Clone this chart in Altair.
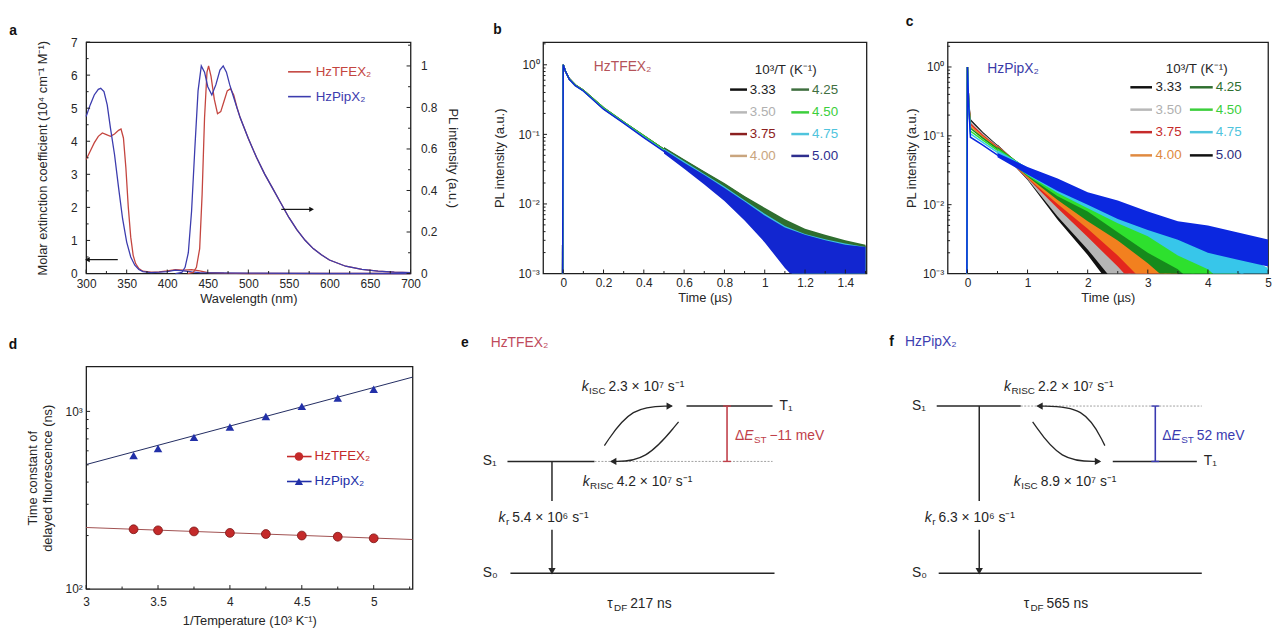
import math
import altair as alt
import pandas as pd

FONT = "Liberation Sans"
INK = "#262626"

# ===================== panel a : absorption / PL =====================
A_SERIES = ["HzTFEX₂", "HzPipX₂"]
A_COLORS = ["#c4453f", "#3c3cae"]
A_XTICKS = [300, 350, 400, 450, 500, 550, 600, 650, 700]
A_XTICKS_MINOR = [325, 375, 425, 475, 525, 575, 625, 675]
A_YTICKS = [0, 1, 2, 3, 4, 5, 6, 7]
A_YTICKS_MINOR = [0.5, 1.5, 2.5, 3.5, 4.5, 5.5, 6.5]
A_Y2TICKS = [0, 0.2, 0.4, 0.6, 0.8, 1.0]
A_Y2TICKS_MINOR = [0.1, 0.3, 0.5, 0.7, 0.9, 1.1]

ABS_WL_TFE = [300, 305, 310, 315, 320, 325, 330, 335, 340, 343, 346, 349, 352, 355, 358, 361, 365, 370, 380, 390,
              400, 410, 420, 430, 440, 450, 470, 500, 600, 700]
ABS_TFE = [3.45, 3.7, 3.95, 4.15, 4.25, 4.2, 4.15, 4.22, 4.33, 4.37, 4.1, 3.2, 2.0, 1.1, 0.55, 0.3, 0.15, 0.07, 0.04,
           0.05, 0.08, 0.12, 0.1, 0.12, 0.08, 0.03, 0.01, 0.0, 0.0, 0.0]
ABS_WL_PIP = [300, 305, 310, 315, 318, 322, 326, 330, 335, 340, 345, 350, 355, 360, 365, 370, 380, 390, 400, 410,
              420, 430, 440, 460, 500, 600, 700]
ABS_PIP = [4.75, 5.1, 5.4, 5.57, 5.6, 5.5, 5.1, 4.4, 3.6, 2.6, 1.65, 0.95, 0.5, 0.25, 0.12, 0.06, 0.03, 0.04, 0.06,
           0.1, 0.08, 0.05, 0.03, 0.02, 0.01, 0.0, 0.0]
PL_WL_TFE = [425, 432, 436, 440, 443, 446, 449, 451, 454, 458, 462, 466, 470, 474, 478, 482, 486,
             490, 500, 510, 520, 530, 540, 550, 560, 570, 580, 590, 600, 620, 640, 660, 680, 700]
PL_TFE = [0.0, 0.005, 0.03, 0.12, 0.38, 0.75, 0.97, 1.0, 0.95, 0.84, 0.77, 0.78, 0.83, 0.88, 0.89, 0.86, 0.8,
          0.75, 0.65, 0.56, 0.48, 0.41, 0.34, 0.27, 0.21, 0.16, 0.12, 0.09, 0.065, 0.035, 0.02, 0.012, 0.007, 0.004]
PL_WL_PIP = [410, 418, 422, 426, 430, 434, 438, 442, 446, 450, 455, 460, 465, 469, 473, 477, 481, 485,
             490, 500, 510, 520, 530, 540, 550, 560, 570, 580, 590, 600, 620, 640, 660, 680, 700]
PL_PIP = [0.0, 0.005, 0.03, 0.1, 0.3, 0.6, 0.88, 1.0, 0.97, 0.9, 0.86, 0.91, 0.98, 1.0, 0.97, 0.91, 0.86, 0.81,
          0.75, 0.65, 0.56, 0.48, 0.41, 0.34, 0.27, 0.21, 0.16, 0.12, 0.09, 0.065, 0.035, 0.02, 0.012, 0.007, 0.004]
A_LEG_X = [549, 577]
A_LEG_TEXT_X = 583
A_LEG_Y = [6.1, 5.35]
A_ARROW_TAIL = [339, 540.6]
A_ARROW_HEAD = [302.5, 577]
A_ARROW_Y = [0.42, 1.94]

# ===================== panels b, c : transient PL =====================
T_LABELS = ["3.33", "3.50", "3.75", "4.00", "4.25", "4.50", "4.75", "5.00"]
LOG_TICKS = [0.001, 0.01, 0.1, 1]
LOG_TICKS_MINOR = [0.002, 0.003, 0.004, 0.005, 0.006, 0.007, 0.008, 0.009,
                   0.02, 0.03, 0.04, 0.05, 0.06, 0.07, 0.08, 0.09,
                   0.2, 0.3, 0.4, 0.5, 0.6, 0.7, 0.8, 0.9, 2]
B_XTICKS = [0, 0.2, 0.4, 0.6, 0.8, 1.0, 1.2, 1.4]
B_XTICKS_MINOR = [0.1, 0.3, 0.5, 0.7, 0.9, 1.1, 1.3, 1.5]
C_XTICKS = [0, 1, 2, 3, 4, 5]
C_XTICKS_MINOR = [0.5, 1.5, 2.5, 3.5, 4.5]

B_COLORS = ["#111111", "#b5b5b5", "#8e1b1b", "#c9a27a", "#2f6e2f", "#34c934", "#3cc0e0", "#1226d0"]
B_LEG_LINE_COLORS = ["#111111", "#b8b8b8", "#8b2020", "#c9a57e", "#3f6f3f", "#3ccf3c", "#4fc4dd", "#2e2e8e"]
B_LEG_TEXT_COLORS = ["#222222", "#b0b0b0", "#8b2020", "#c9a57e", "#3f6f3f", "#3ccf3c", "#4fc4dd", "#2e2e8e"]
C_COLORS = ["#111111", "#b5b5b5", "#e3261e", "#f2801f", "#168a1c", "#2ee02e", "#37c6ea", "#0b27e0"]
C_LEG_LINE_COLORS = ["#111111", "#b8b8b8", "#c62b2b", "#e08a40", "#2f6f2f", "#3ccf3c", "#4fc4dd", "#111111"]
C_LEG_TEXT_COLORS = ["#222222", "#b0b0b0", "#c62b2b", "#e08a40", "#2f6f2f", "#3ccf3c", "#4fc4dd", "#2e2e7e"]

T_B = [-0.003, 0, 0.01, 0.03, 0.06, 0.1, 0.2, 0.3, 0.4, 0.5, 0.6, 0.7, 0.8, 0.9, 1.0, 1.1, 1.2, 1.3, 1.4, 1.5]
B_VALUES = {
    "3.33": [0.0008, 1.0, 0.82, 0.63, 0.51, 0.43, 0.24, 0.15, 0.095, 0.061, 0.039, 0.025, 0.016, 0.0098, 0.006, 0.0037, 0.0023, 0.0015, 0.001, 0.0007],
    "3.50": [0.0008, 1.0, 0.82, 0.63, 0.51, 0.43, 0.235, 0.148, 0.094, 0.06, 0.038, 0.0245, 0.0155, 0.0095, 0.0058, 0.0035, 0.0022, 0.0014, 0.0009, 0.0006],
    "3.75": [0.0008, 1.0, 0.82, 0.63, 0.51, 0.43, 0.235, 0.148, 0.094, 0.06, 0.038, 0.024, 0.0152, 0.0093, 0.0056, 0.0034, 0.0021, 0.0013, 0.0009, 0.0006],
    "4.00": [0.0008, 1.0, 0.82, 0.62, 0.5, 0.43, 0.235, 0.148, 0.093, 0.06, 0.038, 0.024, 0.015, 0.0092, 0.0055, 0.0033, 0.002, 0.0013, 0.0009, 0.0006],
    "4.25": [0.0008, 1.0, 0.82, 0.63, 0.51, 0.43, 0.24, 0.15, 0.095, 0.061, 0.039, 0.025, 0.0158, 0.0097, 0.0059, 0.0036, 0.0022, 0.0014, 0.0009, 0.0006],
    "4.50": [0.0008, 1.0, 0.82, 0.63, 0.51, 0.43, 0.24, 0.15, 0.095, 0.06, 0.0385, 0.0245, 0.0155, 0.0095, 0.0057, 0.0035, 0.0021, 0.0013, 0.0009, 0.0006],
    "4.75": [0.0008, 1.0, 0.82, 0.62, 0.5, 0.42, 0.232, 0.146, 0.091, 0.058, 0.037, 0.0235, 0.0146, 0.0088, 0.0051, 0.003, 0.0018, 0.0011, 0.0008, 0.0006],
    "5.00": [0.0008, 1.0, 0.82, 0.62, 0.5, 0.42, 0.23, 0.145, 0.09, 0.057, 0.036, 0.023, 0.0142, 0.0085, 0.0048, 0.0028, 0.0017, 0.0011, 0.0008, 0.0006],
}
T_B_BAND = [0.5, 0.6, 0.7, 0.8, 0.9, 1.0, 1.1, 1.2, 1.3, 1.4, 1.5]
B_BAND_HI = {
    "3.33": [0.065, 0.043, 0.029, 0.0195, 0.0128, 0.0085, 0.0058, 0.0042, 0.0034, 0.0028, 0.0025],
    "4.25": [0.066, 0.044, 0.0295, 0.02, 0.013, 0.0088, 0.006, 0.0044, 0.0036, 0.003, 0.0026],
    "4.75": [0.062, 0.041, 0.027, 0.0178, 0.0113, 0.0072, 0.0048, 0.0037, 0.0031, 0.0027, 0.0024],
    "5.00": [0.06, 0.039, 0.026, 0.017, 0.0108, 0.0068, 0.0046, 0.0036, 0.003, 0.0026, 0.0024],
}
B_BAND_LO = {
    "3.33": [0.057, 0.035, 0.021, 0.0125, 0.0072, 0.0038, 0.002, 0.001, 0.0006, 0.0005, 0.0005],
    "4.25": [0.057, 0.035, 0.021, 0.0123, 0.007, 0.0037, 0.0019, 0.0009, 0.0006, 0.0005, 0.0005],
    "4.75": [0.054, 0.033, 0.02, 0.0115, 0.0062, 0.003, 0.0013, 0.0006, 0.0005, 0.0005, 0.0005],
    "5.00": [0.053, 0.032, 0.019, 0.011, 0.0058, 0.0028, 0.0012, 0.0006, 0.0005, 0.0005, 0.0005],
}
B_LEG_LINE_X = [[0.828, 0.912], [1.132, 1.22]]
B_LEG_TEXT_X = [0.926, 1.235]
B_LEG_Y = [0.44, 0.207, 0.101, 0.049]
B_HEAD = ["10³/T (K⁻¹)", 0.951, 0.85]
B_NAME = ["HzTFEX₂", 0.152, 0.94]

T_C = [-0.01, 0, 0.02, 0.05, 0.25, 0.5, 1.0, 1.5, 2.0, 2.5, 3.0, 3.5, 4.0, 4.5, 5.0]
C_VALUES = {
    "3.33": [0.0005, 1.0, 0.3, 0.170, 0.112, 0.0708, 0.0263, 0.00851, 0.00309, 0.0011, 0.0004, None, None, None, None],
    "3.50": [0.0005, 1.0, 0.3, 0.158, 0.107, 0.0692, 0.0269, 0.00955, 0.00372, 0.00145, 0.00056, None, None, None, None],
    "3.75": [0.0005, 1.0, 0.3, 0.148, 0.102, 0.0676, 0.0275, 0.0112, 0.00479, 0.00209, 0.00095, 0.00044, None, None, None],
    "4.00": [0.0005, 1.0, 0.3, 0.138, 0.0977, 0.0661, 0.0282, 0.0129, 0.0063, 0.00302, 0.00148, 0.00076, None, None, None],
    "4.25": [0.0005, 1.0, 0.3, 0.129, 0.0933, 0.0646, 0.0295, 0.0148, 0.00813, 0.00427, 0.00234, 0.00132, 0.00076, None, None],
    "4.50": [0.0005, 1.0, 0.3, 0.117, 0.0871, 0.0617, 0.0302, 0.0166, 0.01, 0.00562, 0.00331, 0.00191, 0.00105, 0.00063, None],
    "4.75": [0.0005, 1.0, 0.3, 0.107, 0.0813, 0.0575, 0.0309, 0.0186, 0.0112, 0.00759, 0.0049, 0.00302, 0.00191, 0.00107, 0.00063],
    "5.00": [0.0005, 1.0, 0.3, 0.0955, 0.0741, 0.0525, 0.0316, 0.02, 0.0126, 0.0087, 0.00603, 0.00437, 0.00331, 0.00263, 0.00209],
}
T_C_BAND = [0.5, 1.0, 1.5, 2.0, 2.5, 3.0, 3.5, 4.0, 4.5, 5.0]
C_BAND_HI = {
    "3.33": [0.0748, 0.0294, 0.0112, 0.00463, 0.00209, 0.00076, None, None, None, None],
    "3.50": [0.0734, 0.0301, 0.0126, 0.00557, 0.00275, 0.00107, None, None, None, None],
    "3.75": [0.0724, 0.0309, 0.0135, 0.0063, 0.00313, 0.00182, 0.00083, None, None, None],
    "4.00": [0.0708, 0.0316, 0.0155, 0.00832, 0.00453, 0.00282, 0.00145, None, None, None],
    "4.25": [0.0692, 0.033, 0.0178, 0.0107, 0.00562, 0.00352, 0.00251, 0.00145, None, None],
    "4.50": [0.0661, 0.0338, 0.02, 0.012, 0.00741, 0.00497, 0.00286, 0.002, 0.0012, None],
    "4.75": [0.0617, 0.0346, 0.0224, 0.0135, 0.01, 0.00646, 0.00453, 0.00286, 0.00204, 0.0012],
    "5.00": [0.0562, 0.0353, 0.024, 0.0151, 0.0115, 0.00794, 0.00575, 0.00497, 0.00394, 0.00313],
}
C_BAND_LO = {
    "3.33": [0.0661, 0.0229, 0.00603, 0.00186, 0.00049, 0.0002, None, None, None, None],
    "3.50": [0.0646, 0.0234, 0.00676, 0.00224, 0.00065, 0.0002, None, None, None, None],
    "3.75": [0.0631, 0.024, 0.0089, 0.00339, 0.00126, 0.00043, 0.0002, None, None, None],
    "4.00": [0.0617, 0.0245, 0.0102, 0.00447, 0.00182, 0.00066, 0.0003, None, None, None],
    "4.25": [0.0603, 0.0257, 0.0117, 0.00575, 0.00302, 0.00141, 0.00059, 0.0003, None, None],
    "4.50": [0.0575, 0.0263, 0.0132, 0.00794, 0.00398, 0.002, 0.00115, 0.00047, 0.0003, None],
    "4.75": [0.0537, 0.0269, 0.0148, 0.0089, 0.00537, 0.00347, 0.00182, 0.00115, 0.00048, 0.0003],
    "5.00": [0.049, 0.0275, 0.0158, 0.01, 0.00617, 0.00427, 0.00309, 0.002, 0.00158, 0.00126],
}
C_LEG_LINE_X = [[2.71, 3.07], [3.70, 4.08]]
C_LEG_TEXT_X = [3.13, 4.13]
C_LEG_Y = [0.507, 0.24, 0.113, 0.052]
C_HEAD = ["10³/T (K⁻¹)", 3.3, 0.933]
C_NAME = ["HzPipX₂", 0.33, 0.93]

# ===================== panel d =====================
D_X = [3.33, 3.5, 3.75, 4.0, 4.25, 4.5, 4.75, 5.0]
D_TFE = [217, 214, 211, 207, 204, 200, 197, 193]
D_PIP = [565, 618, 714, 816, 937, 1067, 1188, 1334]
D_FIT_X = [3.0, 5.27]
D_FIT_TFE = [222, 190]
D_FIT_PIP = [502, 1559]
D_XTICKS = [3, 3.5, 4, 4.5, 5]
D_XTICKS_MINOR = [3.25, 3.75, 4.25, 4.75, 5.25]
D_YTICKS = [100, 1000]
D_YTICKS_MINOR = [200, 300, 400, 500, 600, 700, 800, 900]
D_LEG_X = [4.397, 4.568]
D_LEG_MARK_X = 4.48
D_LEG_TEXT_X = 4.589
D_LEG_Y = [557, 403]
D_RED = "#c42a2a"
D_BLUE = "#2230a8"

# ===================== panels e, f : energy diagrams =====================
E_SIZE = [390, 250]
E_LETTER = ["e", 3, -24]
E_NAME = ["HzTFEX₂", 33, -24, "#c04a5c"]
E_LEVEL_NAME = ["S₁", "T₁", "S₀"]
E_LEVEL_X1 = [50, 231, 53]
E_LEVEL_X2 = [138, 318, 320]
E_LEVEL_Y = [96, 40, 209]
E_LEVEL_LABEL_X = [33, 333, 33]
E_DOTTED = [138, 318, 96]
E_GAP = [272, 40, 96, "#c0404a"]
E_TEXTS = [
    ([("k", "i"), ("ISC", "s"), (" 2.3 × 10⁷ s⁻¹", "n")], 125, 21),
    ([("k", "i"), ("RISC", "s"), (" 4.2 × 10⁷ s⁻¹", "n")], 126, 117),
    ([("k", "i"), ("r", "s"), (" 5.4 × 10⁶ s⁻¹", "n")], 41, 153),
    ([("τ", "n"), ("DF", "s"), (" 217 ns", "n")], 151, 240),
]
E_GAP_TEXT = ([("Δ", "n"), ("E", "i"), ("ST", "s"), (" −11 meV", "n")], 280, 70)
E_CURVES = [[(148, 80), (175, 40), (216, 40)], [(223, 56), (190, 96), (155, 96)]]
E_KR = [95, 96, 136, 165, 209]

F_SIZE = [385, 250]
F_LETTER = ["f", 7, -25]
F_NAME = ["HzPipX₂", 23, -25, "#3d3db0"]
F_LEVEL_NAME = ["S₁", "T₁", "S₀"]
F_LEVEL_X1 = [55, 233, 57]
F_LEVEL_X2 = [140, 318, 323]
F_LEVEL_Y = [40, 96, 209]
F_LEVEL_LABEL_X = [38, 333, 38]
F_DOTTED = [140, 323, 40]
F_GAP = [276, 40, 96, "#3a3ab0"]
F_TEXTS = [
    ([("k", "i"), ("RISC", "s"), (" 2.2 × 10⁷ s⁻¹", "n")], 123, 21),
    ([("k", "i"), ("ISC", "s"), (" 8.9 × 10⁷ s⁻¹", "n")], 133, 117),
    ([("k", "i"), ("r", "s"), (" 6.3 × 10⁶ s⁻¹", "n")], 43, 153),
    ([("τ", "n"), ("DF", "s"), (" 565 ns", "n")], 143, 240),
]
F_GAP_TEXT = ([("Δ", "n"), ("E", "i"), ("ST", "s"), (" 52 meV", "n")], 283, 70)
F_CURVES = [[(225, 80), (205, 40), (157, 40)], [(152, 56), (180, 96), (220, 96)]]
F_KR = [98, 40, 136, 165, 209]

# ---------------------------------------------------------------------
LOG_EXPR = ("datum.value >= 0.5 ? '10⁰' : datum.value >= 0.05 ? '10⁻¹' : "
            "datum.value >= 0.005 ? '10⁻²' : '10⁻³'")
LEG_FS = 13.5
NAME_FS = 14
DIA_FS = 14
SUB_FS = 10
TICK_MAJOR = 4
TICK_MINOR = 2.5


def letter_title(t, dx, offset):
    return alt.TitleParams(text=t, anchor="start", frame="bounds", dx=dx, offset=offset,
                           fontSize=14, fontWeight="bold", color="#111111")


def x_ticks(values, x_enc, field, height, length):
    """inward tick marks along the bottom edge, placed by the panel's own x encoding"""
    df = pd.DataFrame({field: values})
    return alt.Chart(df).mark_rule(color="#1e1e1e", strokeWidth=1).encode(
        x=x_enc, y=alt.value(height), y2=alt.value(height - length))


def y_ticks(values, y_enc, field, x0, length):
    """inward tick marks along a vertical edge, placed by the panel's own y encoding"""
    df = pd.DataFrame({field: values})
    return alt.Chart(df).mark_rule(color="#1e1e1e", strokeWidth=1).encode(
        y=y_enc, x=alt.value(x0), x2=alt.value(x0 + length))


# ----------------------------- panel a -----------------------------
A_W, A_H = 328, 234
abs_df = pd.concat([
    pd.DataFrame({"wl": ABS_WL_TFE, "val": ABS_TFE, "series": A_SERIES[0], "col": A_COLORS[0]}),
    pd.DataFrame({"wl": ABS_WL_PIP, "val": ABS_PIP, "series": A_SERIES[1], "col": A_COLORS[1]}),
])
pl_df = pd.concat([
    pd.DataFrame({"wl": PL_WL_TFE, "val": PL_TFE, "series": A_SERIES[0], "col": A_COLORS[0]}),
    pd.DataFrame({"wl": PL_WL_PIP, "val": PL_PIP, "series": A_SERIES[1], "col": A_COLORS[1]}),
])
a_xscale = alt.Scale(domain=[300, 700], nice=False, zero=False)
a_x = alt.X("wl:Q", scale=a_xscale, axis=alt.Axis(values=A_XTICKS, title="Wavelength (nm)", format="d",
                                                  labelPadding=5))
a_yscale = alt.Scale(domain=[0, 7], nice=False)
a_y2scale = alt.Scale(domain=[0, 1.115], nice=False)
a_yhidden = alt.Y("val:Q", scale=a_yscale, axis=None)
a_y2hidden = alt.Y("val:Q", scale=a_y2scale, axis=None)

a_abs = alt.Chart(abs_df).mark_line(strokeWidth=1.3).encode(
    x=a_x,
    y=alt.Y("val:Q", scale=a_yscale,
            axis=alt.Axis(values=A_YTICKS, orient="left", labelPadding=9, titlePadding=21,
                          title="Molar extinction coefficient (10⁴ cm⁻¹ M⁻¹)")),
    stroke=alt.Stroke("col:N", scale=None), detail="series:N")
a_pl = alt.Chart(pl_df).mark_line(strokeWidth=1.3).encode(
    x=a_x,
    y=alt.Y("val:Q", scale=a_y2scale,
            axis=alt.Axis(values=A_Y2TICKS, orient="right", format="~g", labelPadding=10,
                          titlePadding=9, title="PL intensity (a.u.)")),
    stroke=alt.Stroke("col:N", scale=None), detail="series:N")
a_leg_df = pd.DataFrame({"wl": [A_LEG_X[0]] * 2, "wl2": [A_LEG_X[1]] * 2, "val": A_LEG_Y,
                         "series": A_SERIES, "col": A_COLORS})
a_leg_lines = alt.Chart(a_leg_df).mark_rule(strokeWidth=1.6).encode(
    x=a_x, x2="wl2:Q", y=a_yhidden, stroke=alt.Stroke("col:N", scale=None))
a_leg_txt_df = pd.DataFrame({"wl": [A_LEG_TEXT_X] * 2, "val": A_LEG_Y, "series": A_SERIES, "col": A_COLORS})
a_leg_text = alt.Chart(a_leg_txt_df).mark_text(align="left", baseline="middle", fontSize=LEG_FS).encode(
    x=a_x, y=a_yhidden, text="series:N", fill=alt.Fill("col:N", scale=None))
a_arr_df = pd.DataFrame({"wl": A_ARROW_TAIL, "wl2": A_ARROW_HEAD, "val": A_ARROW_Y})
a_arr_lines = alt.Chart(a_arr_df).mark_rule(strokeWidth=1.2, color="#111111").encode(
    x=a_x, x2="wl2:Q", y=a_yhidden)
a_head_df = pd.DataFrame({"wl": A_ARROW_HEAD, "val": A_ARROW_Y,
                          "ang": [270 if h < t else 90 for h, t in zip(A_ARROW_HEAD, A_ARROW_TAIL)]})
a_heads = alt.Chart(a_head_df).mark_point(shape="triangle", filled=True, size=30, color="#111111",
                                          opacity=1).encode(
    x=a_x, y=a_yhidden, angle=alt.Angle("ang:Q", scale=None))
a_ticks = [
    x_ticks(A_XTICKS, a_x, "wl", A_H, TICK_MAJOR),
    x_ticks(A_XTICKS_MINOR, a_x, "wl", A_H, TICK_MINOR),
    y_ticks(A_YTICKS, a_yhidden, "val", 0, TICK_MAJOR),
    y_ticks(A_YTICKS_MINOR, a_yhidden, "val", 0, TICK_MINOR),
    y_ticks(A_Y2TICKS, a_y2hidden, "val", A_W - TICK_MAJOR, TICK_MAJOR),
    y_ticks(A_Y2TICKS_MINOR, a_y2hidden, "val", A_W - TICK_MINOR, TICK_MINOR),
]

chart_a = alt.layer(a_abs, a_pl, a_leg_lines, a_leg_text, a_arr_lines, a_heads, *a_ticks).resolve_scale(
    y="independent").properties(width=A_W, height=A_H, title=letter_title("a", -28, -2))


# ----------------------------- panels b, c -----------------------------
def decay_panel(tgrid, values, band_t, band_hi, band_lo, colors, leg_line_x, leg_text_x, leg_y,
                leg_line_colors, leg_text_colors, head, name, name_color, xdom, ydom, xticks, xticks_minor,
                width, height, letter, title_off, title_pad):
    rows = []
    for lab, col in zip(T_LABELS, colors):
        for t, v in zip(tgrid, values[lab]):
            rows.append({"t": t, "I": v, "series": lab, "col": col})
    ldf = pd.DataFrame(rows)
    brows = []
    for lab, col in zip(T_LABELS, colors):
        if lab not in band_hi:
            continue
        for t, lo, hi in zip(band_t, band_lo[lab], band_hi[lab]):
            brows.append({"t": t, "I": lo, "I2": hi, "series": lab, "col": col})
    bdf = pd.DataFrame(brows)

    xscale = alt.Scale(domain=xdom, nice=False, zero=False)
    x = alt.X("t:Q", scale=xscale, axis=alt.Axis(values=xticks, format="~g", title="Time (µs)"))
    yscale = alt.Scale(type="log", domain=ydom, nice=False)
    yaxis = alt.Axis(values=LOG_TICKS, labelExpr=LOG_EXPR, title="PL intensity (a.u.)",
                     titlePadding=title_pad)
    y = alt.Y("I:Q", scale=yscale, axis=yaxis)
    y_band = alt.Y("I:Q", scale=yscale, axis=yaxis, stack=None)

    lines = alt.Chart(ldf).mark_line(strokeWidth=1.5, clip=True).encode(
        x=x, y=y, stroke=alt.Stroke("col:N", scale=None), detail="series:N")
    bands = alt.Chart(bdf).mark_area(clip=True, opacity=1).encode(
        x=x, y=y_band, y2="I2:Q", fill=alt.Fill("col:N", scale=None), detail="series:N")

    lrows, trows = [], []
    for i, lab in enumerate(T_LABELS):
        col, row = divmod(i, 4)
        lrows.append({"t": leg_line_x[col][0], "t2": leg_line_x[col][1], "I": leg_y[row],
                      "lc": leg_line_colors[i]})
        trows.append({"t": leg_text_x[col], "I": leg_y[row], "text": lab, "tc": leg_text_colors[i]})
    trows.append({"t": head[1], "I": head[2], "text": head[0], "tc": INK})
    leg_lines = alt.Chart(pd.DataFrame(lrows)).mark_rule(strokeWidth=2.5).encode(
        x=x, x2="t2:Q", y=y, stroke=alt.Stroke("lc:N", scale=None))
    leg_text = alt.Chart(pd.DataFrame(trows)).mark_text(align="left", baseline="middle",
                                                        fontSize=LEG_FS).encode(
        x=x, y=y, text="text:N", fill=alt.Fill("tc:N", scale=None))
    name_df = pd.DataFrame({"t": [name[1]], "I": [name[2]], "text": [name[0]]})
    name_text = alt.Chart(name_df).mark_text(align="left", baseline="middle", fontSize=NAME_FS,
                                             color=name_color).encode(x=x, y=y, text="text:N")
    ticks = [
        x_ticks(xticks, x, "t", height, TICK_MAJOR),
        x_ticks(xticks_minor, x, "t", height, TICK_MINOR),
        y_ticks(LOG_TICKS, y, "I", 0, TICK_MAJOR),
        y_ticks(LOG_TICKS_MINOR, y, "I", 0, TICK_MINOR),
    ]
    return alt.layer(lines, bands, leg_lines, leg_text, name_text, *ticks).properties(
        width=width, height=height, title=letter_title(letter, 0, title_off))


chart_b = decay_panel(T_B, B_VALUES, T_B_BAND, B_BAND_HI, B_BAND_LO, B_COLORS, B_LEG_LINE_X, B_LEG_TEXT_X,
                      B_LEG_Y, B_LEG_LINE_COLORS, B_LEG_TEXT_COLORS, B_HEAD, B_NAME, "#b5535a",
                      [-0.1, 1.505], [0.001, 2.12], B_XTICKS, B_XTICKS_MINOR, 327, 234, "b", 5, 12)
chart_c = decay_panel(T_C, C_VALUES, T_C_BAND, C_BAND_HI, C_BAND_LO, C_COLORS, C_LEG_LINE_X, C_LEG_TEXT_X,
                      C_LEG_Y, C_LEG_LINE_COLORS, C_LEG_TEXT_COLORS, C_HEAD, C_NAME, "#3b3ba8",
                      [-0.33, 5.0], [0.001, 2.3], C_XTICKS, C_XTICKS_MINOR, 324, 234, "c", 13, 4)

# ----------------------------- panel d -----------------------------
D_W, D_H = 330, 225
d_xscale = alt.Scale(domain=[3, 5.27], nice=False, zero=False)
d_yscale = alt.Scale(type="log", domain=[100, 1790], nice=False)
d_x = alt.X("x:Q", scale=d_xscale,
            axis=alt.Axis(values=D_XTICKS, format="~g", title="1/Temperature (10³ K⁻¹)",
                          labelPadding=8, titlePadding=7))
d_y = alt.Y("tau:Q", scale=d_yscale,
            axis=alt.Axis(values=D_YTICKS, labelExpr="datum.value >= 500 ? '10³' : '10²'",
                          title=["Time constant of", "delayed fluorescence (ns)"], titlePadding=11))
d_fit_tfe = alt.Chart(pd.DataFrame({"x": D_FIT_X, "tau": D_FIT_TFE})).mark_line(
    color="#a05050", strokeWidth=1.0).encode(x=d_x, y=d_y)
d_fit_pip = alt.Chart(pd.DataFrame({"x": D_FIT_X, "tau": D_FIT_PIP})).mark_line(
    color="#202a60", strokeWidth=1.0).encode(x=d_x, y=d_y)
d_pts_tfe = alt.Chart(pd.DataFrame({"x": D_X, "tau": D_TFE})).mark_point(
    shape="circle", filled=True, size=80, color=D_RED, opacity=1, stroke="#7a1414",
    strokeWidth=0.8).encode(x=d_x, y=d_y)
d_pts_pip = alt.Chart(pd.DataFrame({"x": D_X, "tau": D_PIP})).mark_point(
    shape="triangle-up", filled=True, size=75, color=D_BLUE, opacity=1).encode(x=d_x, y=d_y)
d_leg_line = alt.Chart(pd.DataFrame({"x": [D_LEG_X[0]] * 2, "x2": [D_LEG_X[1]] * 2, "tau": D_LEG_Y,
                                     "c": [D_RED, D_BLUE]})).mark_rule(strokeWidth=1.6).encode(
    x=d_x, x2="x2:Q", y=d_y, stroke=alt.Stroke("c:N", scale=None))
d_leg_m1 = alt.Chart(pd.DataFrame({"x": [D_LEG_MARK_X], "tau": [D_LEG_Y[0]]})).mark_point(
    shape="circle", filled=True, size=75, color=D_RED, opacity=1).encode(x=d_x, y=d_y)
d_leg_m2 = alt.Chart(pd.DataFrame({"x": [D_LEG_MARK_X], "tau": [D_LEG_Y[1]]})).mark_point(
    shape="triangle-up", filled=True, size=70, color=D_BLUE, opacity=1).encode(x=d_x, y=d_y)
d_leg_text = alt.Chart(pd.DataFrame({"x": [D_LEG_TEXT_X] * 2, "tau": D_LEG_Y, "text": A_SERIES,
                                     "c": [D_RED, D_BLUE]})).mark_text(
    align="left", baseline="middle", fontSize=LEG_FS).encode(
    x=d_x, y=d_y, text="text:N", fill=alt.Fill("c:N", scale=None))
d_ticks = [
    x_ticks(D_XTICKS, d_x, "x", D_H, TICK_MAJOR),
    x_ticks(D_XTICKS_MINOR, d_x, "x", D_H, TICK_MINOR),
    y_ticks(D_YTICKS, d_y, "tau", 0, TICK_MAJOR),
    y_ticks(D_YTICKS_MINOR, d_y, "tau", 0, TICK_MINOR),
]
chart_d = alt.layer(d_fit_tfe, d_fit_pip, d_pts_tfe, d_pts_pip, d_leg_line, d_leg_m1, d_leg_m2,
                    d_leg_text, *d_ticks).properties(width=D_W, height=D_H, title=letter_title("d", -18, 15))

# ----------------------------- panels e, f -----------------------------
CHAR_W = {" ": 278, ".": 278, "×": 584, "−": 584, "k": 500, "s": 500, "n": 556, "m": 833, "e": 556,
          "V": 667, "I": 278, "S": 667, "C": 722, "R": 722, "T": 611, "D": 722, "F": 611, "E": 667,
          "Δ": 668, "τ": 480, "r": 333, "⁰": 333, "¹": 333, "⁶": 333, "⁷": 333, "⁻": 333}
SEG_GAP = {"n": 0, "i": 0.5, "s": 3}


def text_w(s, size):
    return sum(CHAR_W.get(ch, 556) for ch in s) * size / 1000.0


def seg_rows(segs, x0, y0, color):
    out = []
    xx = x0
    for s, kind in segs:
        out.append({"x": xx, "y": y0, "text": s, "kind": kind, "c": color})
        xx += text_w(s, SUB_FS if kind == "s" else DIA_FS) + SEG_GAP[kind]
    return out


def diagram(size, letter, name, lv_names, lv_x1, lv_x2, lv_y, lv_lab_x, dotted, gap, texts, gap_text,
            curves, kr):
    W, H = size
    xs = alt.X("x:Q", scale=alt.Scale(domain=[0, W], nice=False, zero=False), axis=None)
    ys = alt.Y("y:Q", scale=alt.Scale(domain=[0, H], nice=False, zero=False, reverse=True), axis=None)
    layers = []
    lv = pd.DataFrame({"x": lv_x1, "x2": lv_x2, "y": lv_y})
    layers.append(alt.Chart(lv).mark_rule(color=INK, strokeWidth=1.6).encode(x=xs, x2="x2:Q", y=ys))
    dt = pd.DataFrame({"x": [dotted[0]], "x2": [dotted[1]], "y": [dotted[2]]})
    layers.append(alt.Chart(dt).mark_rule(color="#a0a0a0", strokeWidth=1.0, strokeDash=[2, 1.5]).encode(
        x=xs, x2="x2:Q", y=ys))
    gv = pd.DataFrame({"x": [gap[0]], "y": [gap[1]], "y2": [gap[2]]})
    layers.append(alt.Chart(gv).mark_rule(color=gap[3], strokeWidth=1.6).encode(x=xs, y=ys, y2="y2:Q"))
    gc = pd.DataFrame({"x": [gap[0] - 4] * 2, "x2": [gap[0] + 4] * 2, "y": [gap[1], gap[2]]})
    layers.append(alt.Chart(gc).mark_rule(color=gap[3], strokeWidth=1.4).encode(x=xs, x2="x2:Q", y=ys))

    crow, hrow = [], []
    for k, pts in enumerate(curves):
        for j, (px, py) in enumerate(pts):
            crow.append({"x": px, "y": py, "arrow": k, "ord": j})
        (cx, cy), (ex, ey) = pts[1], pts[2]
        dx, dy = ex - cx, ey - cy
        n = math.hypot(dx, dy)
        dx, dy = dx / n, dy / n
        hrow.append({"x": ex - 3 * dx, "y": ey - 3 * dy, "ang": math.degrees(math.atan2(dx, -dy)) % 360})
    hrow.append({"x": kr[0], "y": kr[4] - 3, "ang": 180})
    layers.append(alt.Chart(pd.DataFrame(crow)).mark_line(interpolate="basis", color=INK, strokeWidth=1.3).encode(
        x=xs, y=ys, detail="arrow:N", order="ord:Q"))
    kv = pd.DataFrame({"x": [kr[0]] * 2, "y": [kr[1], kr[3]], "y2": [kr[2], kr[4] - 4]})
    layers.append(alt.Chart(kv).mark_rule(color=INK, strokeWidth=1.5).encode(x=xs, y=ys, y2="y2:Q"))
    layers.append(alt.Chart(pd.DataFrame(hrow)).mark_point(shape="triangle", filled=True, size=55, color=INK,
                                                           opacity=1).encode(
        x=xs, y=ys, angle=alt.Angle("ang:Q", scale=None)))

    trows = []
    for segs, x0, y0 in texts:
        trows += seg_rows(segs, x0, y0, INK)
    trows += seg_rows(gap_text[0], gap_text[1], gap_text[2], gap[3])
    for nm, lx, ly in zip(lv_names, lv_lab_x, lv_y):
        trows.append({"x": lx - 8, "y": ly, "text": nm, "kind": "n", "c": INK})
    trows.append({"x": name[1], "y": name[2], "text": name[0], "kind": "name", "c": name[3]})
    trows.append({"x": letter[1], "y": letter[2], "text": letter[0], "kind": "letter", "c": "#111111"})
    tdf = pd.DataFrame(trows)
    styles = {
        "n": dict(fontSize=DIA_FS),
        "i": dict(fontSize=DIA_FS, fontStyle="italic"),
        "s": dict(fontSize=SUB_FS, dy=4),
        "name": dict(fontSize=NAME_FS),
        "letter": dict(fontSize=14, fontWeight="bold"),
    }
    for kind, st in styles.items():
        layers.append(alt.Chart(tdf).transform_filter(alt.datum.kind == kind).mark_text(
            align="left", baseline="middle", **st).encode(
            x=xs, y=ys, text="text:N", fill=alt.Fill("c:N", scale=None)))
    return alt.layer(*layers).properties(width=W, height=H, view=alt.ViewBackground(stroke="transparent"))


chart_e = diagram(E_SIZE, E_LETTER, E_NAME, E_LEVEL_NAME, E_LEVEL_X1, E_LEVEL_X2, E_LEVEL_Y, E_LEVEL_LABEL_X,
                  E_DOTTED, E_GAP, E_TEXTS, E_GAP_TEXT, E_CURVES, E_KR)
chart_f = diagram(F_SIZE, F_LETTER, F_NAME, F_LEVEL_NAME, F_LEVEL_X1, F_LEVEL_X2, F_LEVEL_Y, F_LEVEL_LABEL_X,
                  F_DOTTED, F_GAP, F_TEXTS, F_GAP_TEXT, F_CURVES, F_KR)

row1 = alt.hconcat(chart_a, alt.hconcat(chart_b, chart_c, spacing=38), spacing=33)
row2 = alt.hconcat(chart_d, alt.hconcat(chart_e, chart_f, spacing=37), spacing=42)

chart = alt.vconcat(row1, row2, spacing=28).properties(
    padding={"left": 0, "top": 3, "right": 0, "bottom": 0}
).configure(
    font=FONT
).configure_view(
    stroke="#1e1e1e", strokeWidth=1.3
).configure_axis(
    labelFont=FONT, titleFont=FONT, labelFontSize=12, titleFontSize=13, labelColor=INK, titleColor=INK,
    titleFontWeight="normal", grid=False, domain=False, ticks=False, labelPadding=4, titlePadding=3,
    labelFlush=False, labelOverlap=False
).configure_title(font=FONT)

chart.save("out.html", embed_options={"renderer": "svg", "actions": False})
